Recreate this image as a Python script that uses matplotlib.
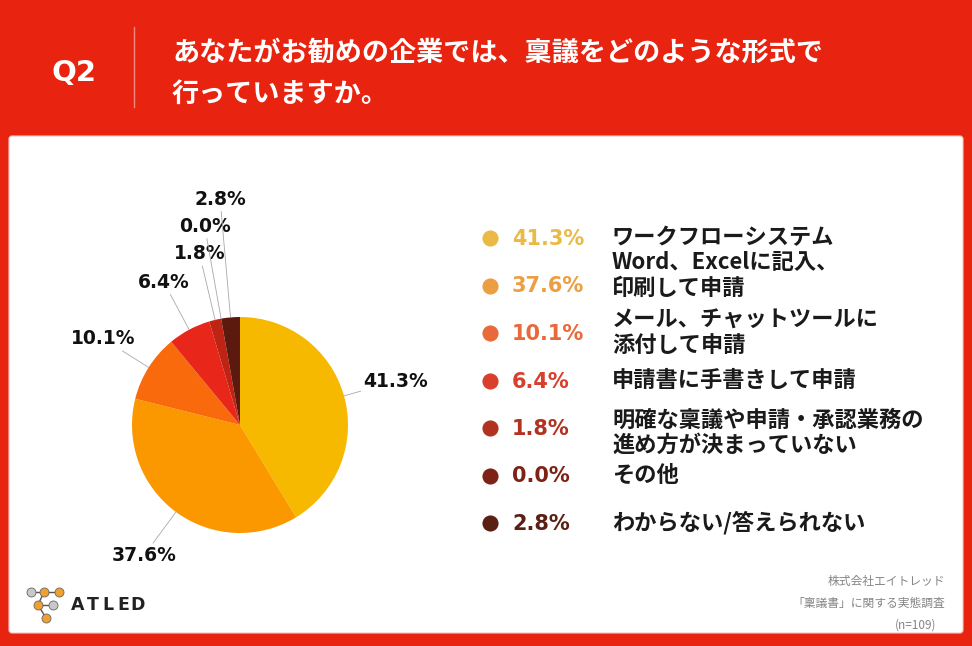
import numpy as np
import matplotlib
matplotlib.use("Agg")
import matplotlib.pyplot as plt
from matplotlib.patches import Rectangle, FancyBboxPatch

plt.rcParams['font.family'] = ['Noto Sans CJK JP', 'DejaVu Sans']

# data
categories = ["ワークフローシステム",
              "Word、Excelに記入、\n印刷して申請",
              "メール、チャットツールに\n添付して申請",
              "申請書に手書きして申請",
              "明確な稟議や申請・承認業務の\n進め方が決まっていない",
              "その他",
              "わからない/答えられない"]
values = [41.3, 37.6, 10.1, 6.4, 1.8, 0.0, 2.8]
pie_colors = ['#F6B900', '#FB9800', '#F86A0C', '#E8261A', '#BE2314', '#8B1E10', '#5C1A0E']
dot_colors = ['#EBBA45', '#EC9E42', '#E8693A', '#D9402C', '#B23221', '#7E2216', '#5B2014']
title = "あなたがお勧めの企業では、稟議をどのような形式で\n行っていますか。"
source = ["株式会社エイトレッド", "「稟議書」に関する実態調査", "(n=109)"]

# label distance from centre (in pie radii), stacked for the thin slices
label_r = [1.5, 1.5, 1.5, 1.5, 1.63, 1.87, 2.1]
label_dy = [0, -10, 0, 0, 5, 0, 0]

W, H = 972, 646
fig = plt.figure(figsize=(W / 100, H / 100), dpi=100)
bg = fig.add_axes([0, 0, 1, 1])
bg.set_xlim(0, W)
bg.set_ylim(H, 0)
bg.axis('off')

bg.add_patch(Rectangle((0, 0), W, H, color='#E8230F', zorder=0))
bg.add_patch(FancyBboxPatch((9, 136), 954, 497, boxstyle="round,pad=0,rounding_size=3",
                            fc='white', ec='#F4C9C2', lw=0.8, zorder=1))

# header
bg.text(74, 73, "Q2", color='white', fontsize=21, fontweight='bold', ha='center', va='center',
        family='DejaVu Sans')
bg.plot([134, 134], [27, 107], color='#F08A7E', lw=1)
bg.text(172, 73, title, color='white', fontsize=19.5, fontweight='bold', ha='left', va='center',
        linespacing=1.6)

# legend
for i, (cat, v) in enumerate(zip(categories, values)):
    y = 238 + i * 47.5
    bg.scatter([490], [y], s=135, color=dot_colors[i], zorder=3, linewidths=0)
    bg.text(512, y + 1, f"{v:.1f}%", color=dot_colors[i], fontsize=15, fontweight='bold',
            ha='left', va='center', family='DejaVu Sans', zorder=3)
    bg.text(612, y + label_dy[i], cat, color='#1a1a1a', fontsize=16, fontweight='bold',
            ha='left', va='center', linespacing=1.12, zorder=3)

# source
for i, s in enumerate(source):
    bg.text(945 if i < 2 else 936, 581 + i * 22, s, color='#858585', fontsize=8.5,
            ha='right', va='center', zorder=3)

# logo
dots = [(31, 592, '#C8C8C8'), (44, 592, '#F0A030'), (59, 592, '#F0A030'),
        (38, 605, '#F0A030'), (53, 605, '#C8C8C8'), (46, 618, '#F0A030')]
for a, b in [(0, 1), (1, 2), (1, 3), (3, 4), (3, 5)]:
    bg.plot([dots[a][0], dots[b][0]], [dots[a][1], dots[b][1]], color='#555555', lw=1, zorder=3)
for x, y, c in dots:
    bg.scatter([x], [y], s=42, color=c, edgecolors='#666666', linewidths=0.6, zorder=4)
for i, ch in enumerate("ATLED"):
    bg.text(78 + i * 15, 605, ch, color='#222222', fontsize=12.5, fontweight='bold',
            ha='center', va='center', family='DejaVu Sans', zorder=4)

# pie
cx, cy, R = 240, 425, 108
ax = fig.add_axes([(cx - R) / W, (H - cy - R) / H, 2 * R / W, 2 * R / H])
wedges, _ = ax.pie(values, colors=pie_colors, startangle=90, counterclock=False,
                   wedgeprops=dict(linewidth=0))
ax.set_xlim(-1, 1)
ax.set_ylim(-1, 1)
ax.set_aspect('equal')
ax.axis('off')

for w, v, r in zip(wedges, values, label_r):
    ang = np.deg2rad((w.theta1 + w.theta2) / 2)
    ax.annotate(f"{v:.1f}%", xy=(np.cos(ang), np.sin(ang)),
                xytext=(r * np.cos(ang), r * np.sin(ang)),
                ha='center', va='center', fontsize=13.5, fontweight='bold', color='#111111',
                family='DejaVu Sans', annotation_clip=False,
                arrowprops=dict(arrowstyle='-', color='#A8A8A8', lw=0.6, shrinkA=0, shrinkB=0))

fig.savefig("out.png", dpi=100)
